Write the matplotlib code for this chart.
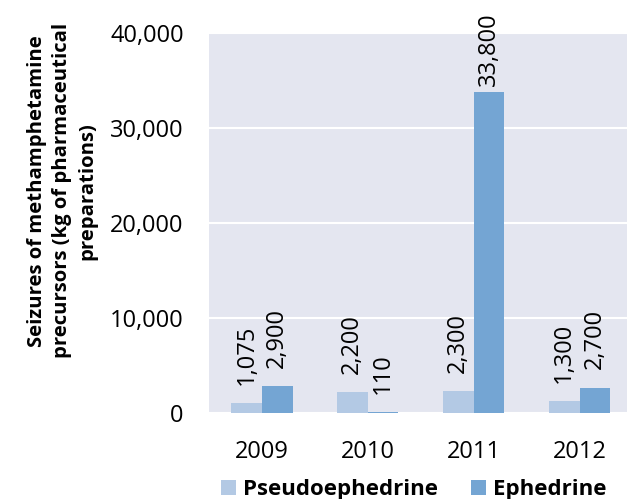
import numpy as np
import matplotlib
matplotlib.use("Agg")
import matplotlib.pyplot as plt
from matplotlib.ticker import FuncFormatter

# data
years = ["2009", "2010", "2011", "2012"]
pseudoephedrine = [1075, 2200, 2300, 1300]
ephedrine = [2900, 110, 33800, 2700]

plt.rcParams['font.family'] = ['Open Sans', 'DejaVu Sans']

fig = plt.figure(figsize=(6.27, 4.99), dpi=100)
ax = fig.add_axes([0.333, 0.172, 0.676, 0.762])
ax.set_facecolor('#E4E6F0')

x = np.arange(len(years))
w = 0.29
b1 = ax.bar(x - w / 2, pseudoephedrine, w, color='#B3C9E4', label='Pseudoephedrine', zorder=3)
b2 = ax.bar(x + w / 2, ephedrine, w, color='#74A5D3', label='Ephedrine', zorder=3)

ymax = 40000
# rotated value labels above each bar (tall ones are pulled in so they stay on the chart)
for bars, vals in [(b1, pseudoephedrine), (b2, ephedrine)]:
    for bar, v in zip(bars, vals):
        off = 4 if v > 0.8 * ymax else 13
        ax.annotate(f"{v:,}", (bar.get_x() + bar.get_width() / 2, v),
                    xytext=(0, off), textcoords='offset points',
                    rotation=90, ha='center', va='bottom', fontsize=17)

ax.set_xlim(-0.5, 3.5)
ax.set_ylim(0, ymax)
ax.set_yticks([0, 10000, 20000, 30000, 40000])
ax.yaxis.set_major_formatter(FuncFormatter(lambda v, p: f"{int(v):,}"))
ax.set_xticks(x)
ax.set_xticklabels(years)
ax.tick_params(axis='both', length=0, labelsize=17)
ax.tick_params(axis='y', pad=18)
ax.tick_params(axis='x', pad=19)
ax.grid(axis='y', color='white', linewidth=1.5, zorder=0)
for s in ax.spines.values():
    s.set_visible(False)

ax.set_ylabel("Seizures of methamphetamine\nprecursors (kg of pharmaceutical\npreparations)",
              fontsize=14.6, fontweight='bold', linespacing=1.35)
ax.yaxis.set_label_coords(-0.262, 0.585)

leg = fig.legend(handles=[b1, b2], loc='center', bbox_to_anchor=(0.66, 0.019), ncol=2,
                 frameon=False, prop={'weight': 'bold', 'size': 16},
                 handlelength=0.68, handleheight=0.68, handletextpad=0.3, columnspacing=1.5)

fig.savefig("out.png", dpi=100)
